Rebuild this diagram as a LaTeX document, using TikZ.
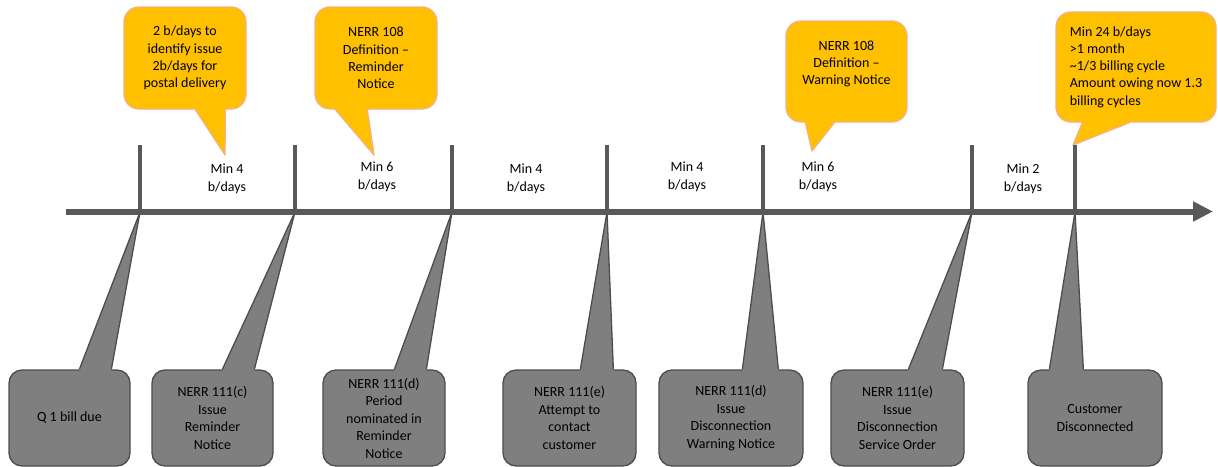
\documentclass[tikz,border=0pt]{standalone}
\usepackage{fontspec}
\setmainfont{Carlito}
\usetikzlibrary{arrows, arrows.meta, positioning, calc}
\definecolor{noteorange}{HTML}{FFC000}
\definecolor{noteedge}{HTML}{F4B183}
\definecolor{stepgray}{HTML}{7F7F7F}
\definecolor{stepedge}{HTML}{4D4D4D}
\definecolor{lineclr}{HTML}{595959}

\begin{document}
\begin{tikzpicture}[x=1pt, y=-1pt,
  note/.style={fill=noteorange, draw=noteedge, line width=1.3pt, rounded corners=15pt,
    align=center, inner sep=0pt, font=\fontsize{14}{17.2}\selectfont},
  notefill/.style={fill=noteorange},
  noteline/.style={draw=noteedge, line width=1.3pt, line join=round},
  event/.style={fill=stepgray, draw=stepedge, line width=1.3pt, rounded corners=13pt,
    align=center, inner sep=0pt, minimum height=96pt, font=\fontsize{14}{17.5}\selectfont},
  eventfill/.style={fill=stepgray},
  eventline/.style={draw=stepedge, line width=1.3pt, line join=round},
  tickline/.style={draw=lineclr, line width=4.5pt},
  days/.style={align=center, inner sep=0pt, font=\fontsize{14}{17.5}\selectfont}]
\useasboundingbox (0,0) rectangle (1218,466);

%points on the time line
\coordinate (k1) at (140,212);
\coordinate (k2) at (295,212);
\coordinate (k3) at (452,212);
\coordinate (k4) at (607,212);
\coordinate (k5) at (763,212);
\coordinate (k6) at (972,212);
\coordinate (k7) at (1075,212);

%top notes
\node[note, minimum width=122pt, minimum height=102pt] (n1) at (185,58) {2 b/days to\\identify issue\\2b/days for\\postal delivery};
\node[note, minimum width=122pt, minimum height=102pt] (n2) at (376,58) {NERR 108\\Definition --\\Reminder\\Notice};
\node[note, minimum width=121pt, minimum height=101pt] (n3) at (846.5,71.5) {NERR 108\\Definition --\\Warning Notice\\\mbox{}};
\node[note, minimum width=160pt, minimum height=110pt, align=left] (n4) at (1136,67) {Min 24 b/days\\>1 month\\\textasciitilde1/3 billing cycle\\Amount owing now 1.3\\billing cycles};
\coordinate (p1) at (225,155);
\coordinate (p2) at (374,155);
\coordinate (p3) at (812,151);
\coordinate (p4) at (1073,145);
\fill[notefill] ($(n1.south west)+(72,-2)$) -- ($(n1.south west)+(72,0)$) -- (p1) -- ($(n1.south west)+(102,0)$) -- ($(n1.south west)+(102,-2)$) -- cycle;
\draw[noteline] ($(n1.south west)+(72,0)$) -- (p1) -- ($(n1.south west)+(102,0)$);
\fill[notefill] ($(n2.south west)+(21,-2)$) -- ($(n2.south west)+(21,0)$) -- (p2) -- ($(n2.south west)+(53,0)$) -- ($(n2.south west)+(53,-2)$) -- cycle;
\draw[noteline] ($(n2.south west)+(21,0)$) -- (p2) -- ($(n2.south west)+(53,0)$);
\fill[notefill] ($(n3.south west)+(20,-2)$) -- ($(n3.south west)+(20,0)$) -- (p3) -- ($(n3.south west)+(49,0)$) -- ($(n3.south west)+(49,-2)$) -- cycle;
\draw[noteline] ($(n3.south west)+(20,0)$) -- (p3) -- ($(n3.south west)+(49,0)$);
\fill[notefill] ($(n4.south west)+(27,-2)$) -- ($(n4.south west)+(27,0)$) -- (p4) -- ($(n4.south west)+(74,0)$) -- ($(n4.south west)+(74,-2)$) -- cycle;
\draw[noteline] ($(n4.south west)+(27,0)$) -- (p4) -- ($(n4.south west)+(74,0)$);

%bottom events
\node[event, minimum width=121pt] (e1) at (69.5,418) {Q 1 bill due};
\node[event, minimum width=121pt] (e2) at (212.5,418) {NERR 111(c)\\Issue\\Reminder\\Notice};
\node[event, minimum width=122pt] (e3) at (384,418) {NERR 111(d)\\Period\\nominated in\\Reminder\\Notice};
\node[event, minimum width=133pt] (e4) at (569.5,418) {NERR 111(e)\\Attempt to\\contact\\customer};
\node[event, minimum width=144pt] (e5) at (731,418) {NERR 111(d)\\Issue\\Disconnection\\Warning Notice};
\node[event, minimum width=133pt] (e6) at (897.5,418) {NERR 111(e)\\Issue\\Disconnection\\Service Order};
\node[event, minimum width=134pt] (e7) at (1095,418) {Customer\\Disconnected};
\fill[eventfill] ($(e1.north west)+(71,2)$) -- ($(e1.north west)+(71,0)$) -- (k1) -- ($(e1.north west)+(103,0)$) -- ($(e1.north west)+(103,2)$) -- cycle;
\draw[eventline] ($(e1.north west)+(71,0)$) -- (k1) -- ($(e1.north west)+(103,0)$);
\fill[eventfill] ($(e2.north west)+(71,2)$) -- ($(e2.north west)+(71,0)$) -- (k2) -- ($(e2.north west)+(103,0)$) -- ($(e2.north west)+(103,2)$) -- cycle;
\draw[eventline] ($(e2.north west)+(71,0)$) -- (k2) -- ($(e2.north west)+(103,0)$);
\fill[eventfill] ($(e3.north west)+(72,2)$) -- ($(e3.north west)+(72,0)$) -- (k3) -- ($(e3.north west)+(104,0)$) -- ($(e3.north west)+(104,2)$) -- cycle;
\draw[eventline] ($(e3.north west)+(72,0)$) -- (k3) -- ($(e3.north west)+(104,0)$);
\fill[eventfill] ($(e4.north west)+(78,2)$) -- ($(e4.north west)+(78,0)$) -- (k4) -- ($(e4.north west)+(111,0)$) -- ($(e4.north west)+(111,2)$) -- cycle;
\draw[eventline] ($(e4.north west)+(78,0)$) -- (k4) -- ($(e4.north west)+(111,0)$);
\fill[eventfill] ($(e5.north west)+(84,2)$) -- ($(e5.north west)+(84,0)$) -- (k5) -- ($(e5.north west)+(120,0)$) -- ($(e5.north west)+(120,2)$) -- cycle;
\draw[eventline] ($(e5.north west)+(84,0)$) -- (k5) -- ($(e5.north west)+(120,0)$);
\fill[eventfill] ($(e6.north west)+(78,2)$) -- ($(e6.north west)+(78,0)$) -- (k6) -- ($(e6.north west)+(112,0)$) -- ($(e6.north west)+(112,2)$) -- cycle;
\draw[eventline] ($(e6.north west)+(78,0)$) -- (k6) -- ($(e6.north west)+(112,0)$);
\fill[eventfill] ($(e7.north west)+(22,2)$) -- ($(e7.north west)+(22,0)$) -- (k7) -- ($(e7.north west)+(56,0)$) -- ($(e7.north west)+(56,2)$) -- cycle;
\draw[eventline] ($(e7.north west)+(22,0)$) -- (k7) -- ($(e7.north west)+(56,0)$);

%time line and ticks
\coordinate (start) at (66,211.5);
\coordinate (stop) at (1213,211.5);
\draw[draw=lineclr, line width=6pt, -{Triangle[length=20pt, width=19pt]}] (start) -- (stop);
\draw[tickline] (k1) -- ++(0,-67);
\draw[tickline] (k2) -- ++(0,-67);
\draw[tickline] (k3) -- ++(0,-67);
\draw[tickline] (k4) -- ++(0,-67);
\draw[tickline] (k5) -- ++(0,-67);
\draw[tickline] (k6) -- ++(0,-67);
\draw[tickline] (k7) -- ++(0,-67);

%minimum periods
\node[days] (d1) at (227,179) {Min 4\\b/days};
\node[days] (d2) at (377,177) {Min 6\\b/days};
\node[days] (d3) at (526,179) {Min 4\\b/days};
\node[days] (d4) at (687,177) {Min 4\\b/days};
\node[days] (d5) at (818,177) {Min 6\\b/days};
\node[days] (d6) at (1023,179) {Min 2\\b/days};
\end{tikzpicture}
\end{document}
